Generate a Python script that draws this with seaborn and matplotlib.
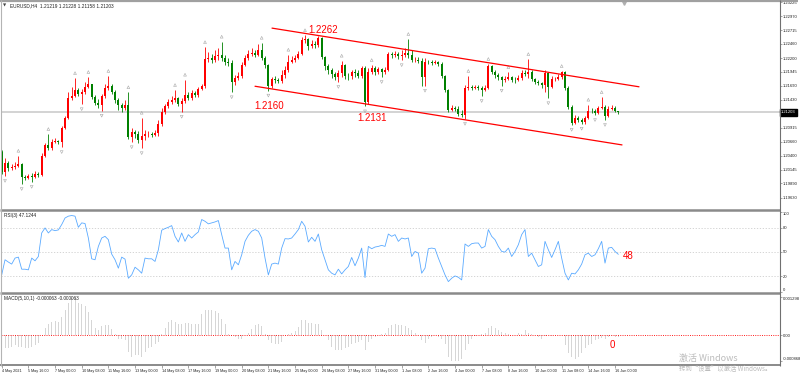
import matplotlib
matplotlib.use("Agg")
import matplotlib.pyplot as plt
import matplotlib.transforms as mtransforms
from matplotlib.lines import Line2D
import numpy as np
import pandas as pd
import seaborn as sns

# ---- data (EURUSD H4, 4 May 2021 08:00 -> 16 Jun 2021 04:00) ----
x_labels = ["4 May 2021", "5 May 16:00", "7 May 00:00", "10 May 08:00", "11 May 16:00",
            "13 May 00:00", "14 May 08:00", "17 May 16:00", "19 May 00:00", "20 May 08:00",
            "21 May 16:00", "25 May 00:00", "26 May 08:00", "27 May 16:00", "31 May 00:00",
            "1 Jun 08:00", "2 Jun 16:00", "4 Jun 00:00", "7 Jun 08:00", "8 Jun 16:00",
            "10 Jun 00:00", "11 Jun 08:00", "14 Jun 16:00", "16 Jun 00:00"]

opens = [
    1.2047, 1.2010, 1.2027, 1.2018, 1.2019, 1.2021, 1.2025, 1.2001, 1.1999, 1.2003,
    1.2001, 1.2006, 1.2005, 1.2040, 1.2060, 1.2054, 1.2065, 1.2067, 1.2065, 1.2091,
    1.2110, 1.2146, 1.2150, 1.2161, 1.2154, 1.2157, 1.2167, 1.2172, 1.2148, 1.2137,
    1.2134, 1.2150, 1.2165, 1.2169, 1.2157, 1.2143, 1.2134, 1.2128, 1.2134, 1.2075,
    1.2084, 1.2080, 1.2069, 1.2076, 1.2080, 1.2081, 1.2078, 1.2082, 1.2099, 1.2121,
    1.2132, 1.2139, 1.2143, 1.2146, 1.2135, 1.2141, 1.2152, 1.2146, 1.2156, 1.2152,
    1.2163, 1.2169, 1.2218, 1.2220, 1.2216, 1.2224, 1.2226, 1.2220, 1.2213, 1.2211,
    1.2176, 1.2183, 1.2187, 1.2207, 1.2220, 1.2227, 1.2229, 1.2226, 1.2235, 1.2220,
    1.2207, 1.2169, 1.2181, 1.2180, 1.2178, 1.2189, 1.2198, 1.2213, 1.2216, 1.2220,
    1.2227, 1.2253, 1.2255, 1.2242, 1.2246, 1.2244, 1.2257, 1.2222, 1.2205, 1.2198,
    1.2191, 1.2185, 1.2192, 1.2207, 1.2187, 1.2186, 1.2194, 1.2192, 1.2187, 1.2202,
    1.2139, 1.2194, 1.2202, 1.2194, 1.2200, 1.2194, 1.2198, 1.2227, 1.2226, 1.2228,
    1.2224, 1.2226, 1.2229, 1.2226, 1.2216, 1.2217, 1.2215, 1.2185, 1.2213, 1.2212,
    1.2211, 1.2213, 1.2209, 1.2187, 1.2161, 1.2124, 1.2128, 1.2126, 1.2117, 1.2115,
    1.2165, 1.2167, 1.2165, 1.2167, 1.2165, 1.2161, 1.2165, 1.2205, 1.2194, 1.2189,
    1.2185, 1.2180, 1.2181, 1.2185, 1.2180, 1.2179, 1.2183, 1.2192, 1.2191, 1.2194,
    1.2181, 1.2176, 1.2174, 1.2170, 1.2192, 1.2167, 1.2181, 1.2182, 1.2185, 1.2194,
    1.2165, 1.2130, 1.2100, 1.2110, 1.2106, 1.2102, 1.2110, 1.2123, 1.2122, 1.2119,
    1.2128, 1.2130, 1.2113, 1.2126, 1.2128, 1.2122,
]
highs = [
    1.2051, 1.2036, 1.2030, 1.2025, 1.2029, 1.2040, 1.2027, 1.2005, 1.2006, 1.2008,
    1.2012, 1.2010, 1.2045, 1.2064, 1.2080, 1.2071, 1.2073, 1.2069, 1.2095, 1.2113,
    1.2157, 1.2167, 1.2183, 1.2165, 1.2163, 1.2176, 1.2185, 1.2172, 1.2152, 1.2145,
    1.2154, 1.2172, 1.2187, 1.2172, 1.2161, 1.2146, 1.2137, 1.2143, 1.2157, 1.2091,
    1.2088, 1.2086, 1.2110, 1.2088, 1.2086, 1.2084, 1.2088, 1.2106, 1.2128, 1.2135,
    1.2145, 1.2150, 1.2161, 1.2148, 1.2146, 1.2180, 1.2157, 1.2161, 1.2159, 1.2167,
    1.2172, 1.2240, 1.2231, 1.2227, 1.2235, 1.2238, 1.2250, 1.2226, 1.2220, 1.2216,
    1.2189, 1.2194, 1.2213, 1.2226, 1.2235, 1.2238, 1.2235, 1.2246, 1.2248, 1.2224,
    1.2209, 1.2185, 1.2187, 1.2183, 1.2198, 1.2205, 1.2226, 1.2224, 1.2226, 1.2233,
    1.2259, 1.2262, 1.2257, 1.2253, 1.2251, 1.2261, 1.2259, 1.2224, 1.2209, 1.2202,
    1.2194, 1.2198, 1.2215, 1.2209, 1.2192, 1.2198, 1.2200, 1.2198, 1.2205, 1.2205,
    1.2202, 1.2207, 1.2205, 1.2204, 1.2202, 1.2204, 1.2231, 1.2231, 1.2233, 1.2231,
    1.2235, 1.2238, 1.2255, 1.2235, 1.2222, 1.2222, 1.2220, 1.2220, 1.2216, 1.2216,
    1.2216, 1.2215, 1.2213, 1.2189, 1.2163, 1.2134, 1.2132, 1.2132, 1.2124, 1.2170,
    1.2187, 1.2170, 1.2170, 1.2170, 1.2169, 1.2170, 1.2209, 1.2207, 1.2198, 1.2192,
    1.2187, 1.2187, 1.2194, 1.2187, 1.2185, 1.2189, 1.2198, 1.2198, 1.2218, 1.2198,
    1.2183, 1.2180, 1.2176, 1.2198, 1.2194, 1.2187, 1.2185, 1.2191, 1.2196, 1.2196,
    1.2169, 1.2134, 1.2115, 1.2113, 1.2110, 1.2113, 1.2134, 1.2128, 1.2126, 1.2132,
    1.2148, 1.2134, 1.2132, 1.2134, 1.2132, 1.2123,
]
lows = [
    1.2006, 1.2003, 1.2012, 1.2014, 1.2016, 1.2019, 1.1988, 1.1995, 1.1997, 1.1992,
    1.1999, 1.2001, 1.2003, 1.2038, 1.2051, 1.2051, 1.2064, 1.2062, 1.2056, 1.2089,
    1.2108, 1.2143, 1.2148, 1.2150, 1.2135, 1.2154, 1.2165, 1.2145, 1.2134, 1.2128,
    1.2123, 1.2146, 1.2161, 1.2154, 1.2137, 1.2124, 1.2121, 1.2124, 1.2071, 1.2065,
    1.2073, 1.2064, 1.2054, 1.2069, 1.2075, 1.2075, 1.2076, 1.2076, 1.2095, 1.2117,
    1.2128, 1.2135, 1.2139, 1.2132, 1.2121, 1.2137, 1.2143, 1.2143, 1.2148, 1.2148,
    1.2161, 1.2165, 1.2213, 1.2211, 1.2213, 1.2216, 1.2215, 1.2207, 1.2205, 1.2157,
    1.2170, 1.2180, 1.2183, 1.2205, 1.2216, 1.2224, 1.2222, 1.2224, 1.2216, 1.2202,
    1.2160, 1.2165, 1.2174, 1.2174, 1.2174, 1.2183, 1.2194, 1.2211, 1.2213, 1.2218,
    1.2226, 1.2248, 1.2235, 1.2238, 1.2238, 1.2240, 1.2218, 1.2198, 1.2191, 1.2183,
    1.2180, 1.2176, 1.2185, 1.2181, 1.2180, 1.2181, 1.2185, 1.2183, 1.2183, 1.2131,
    1.2135, 1.2191, 1.2189, 1.2191, 1.2185, 1.2191, 1.2196, 1.2220, 1.2222, 1.2218,
    1.2216, 1.2222, 1.2220, 1.2213, 1.2213, 1.2211, 1.2169, 1.2169, 1.2209, 1.2207,
    1.2209, 1.2205, 1.2183, 1.2157, 1.2121, 1.2123, 1.2123, 1.2113, 1.2111, 1.2108,
    1.2161, 1.2161, 1.2163, 1.2161, 1.2150, 1.2159, 1.2163, 1.2191, 1.2183, 1.2180,
    1.2169, 1.2176, 1.2180, 1.2176, 1.2174, 1.2178, 1.2180, 1.2187, 1.2183, 1.2178,
    1.2172, 1.2170, 1.2165, 1.2157, 1.2146, 1.2165, 1.2178, 1.2180, 1.2181, 1.2161,
    1.2126, 1.2097, 1.2099, 1.2102, 1.2099, 1.2099, 1.2108, 1.2119, 1.2115, 1.2117,
    1.2126, 1.2106, 1.2111, 1.2124, 1.2120, 1.2116,
]
closes = [
    1.2010, 1.2027, 1.2018, 1.2019, 1.2021, 1.2025, 1.2001, 1.1999, 1.2003, 1.2001,
    1.2006, 1.2005, 1.2040, 1.2060, 1.2054, 1.2065, 1.2067, 1.2065, 1.2091, 1.2110,
    1.2146, 1.2150, 1.2161, 1.2154, 1.2157, 1.2167, 1.2172, 1.2148, 1.2137, 1.2134,
    1.2150, 1.2165, 1.2169, 1.2157, 1.2143, 1.2134, 1.2128, 1.2134, 1.2075, 1.2084,
    1.2080, 1.2069, 1.2076, 1.2080, 1.2081, 1.2078, 1.2082, 1.2099, 1.2121, 1.2132,
    1.2139, 1.2143, 1.2146, 1.2135, 1.2141, 1.2152, 1.2146, 1.2156, 1.2152, 1.2163,
    1.2169, 1.2218, 1.2220, 1.2216, 1.2224, 1.2226, 1.2220, 1.2213, 1.2211, 1.2176,
    1.2183, 1.2187, 1.2207, 1.2220, 1.2227, 1.2229, 1.2226, 1.2235, 1.2220, 1.2207,
    1.2169, 1.2181, 1.2180, 1.2178, 1.2189, 1.2198, 1.2213, 1.2216, 1.2220, 1.2227,
    1.2253, 1.2255, 1.2242, 1.2246, 1.2244, 1.2257, 1.2222, 1.2205, 1.2198, 1.2191,
    1.2185, 1.2192, 1.2207, 1.2187, 1.2186, 1.2194, 1.2192, 1.2187, 1.2202, 1.2139,
    1.2194, 1.2202, 1.2194, 1.2200, 1.2194, 1.2198, 1.2227, 1.2226, 1.2228, 1.2224,
    1.2226, 1.2229, 1.2226, 1.2216, 1.2217, 1.2215, 1.2185, 1.2213, 1.2212, 1.2211,
    1.2213, 1.2209, 1.2187, 1.2161, 1.2124, 1.2128, 1.2126, 1.2117, 1.2115, 1.2165,
    1.2167, 1.2165, 1.2167, 1.2165, 1.2161, 1.2165, 1.2205, 1.2194, 1.2189, 1.2185,
    1.2180, 1.2181, 1.2185, 1.2180, 1.2179, 1.2183, 1.2192, 1.2191, 1.2194, 1.2181,
    1.2176, 1.2174, 1.2170, 1.2192, 1.2167, 1.2181, 1.2182, 1.2185, 1.2194, 1.2165,
    1.2130, 1.2100, 1.2110, 1.2106, 1.2102, 1.2110, 1.2123, 1.2122, 1.2119, 1.2128,
    1.2130, 1.2113, 1.2126, 1.2128, 1.2122, 1.2120,
]

rsi = [
    21.4, 40.3, 37.4, 34.9, 42.4, 43.6, 28.5, 28.5, 27.7, 42.4,
    39.0, 44.4, 73.8, 80.1, 73.8, 78.0, 76.7, 77.6, 84.3, 92.5,
    94.8, 95.6, 94.8, 80.9, 86.4, 85.6, 67.5, 41.5, 40.3, 57.0,
    67.5, 69.6, 65.4, 47.4, 40.3, 29.8, 43.6, 41.1, 17.2, 21.4,
    31.0, 27.7, 23.5, 42.4, 41.5, 41.5, 38.2, 52.8, 77.2, 79.3,
    80.9, 83.0, 69.6, 62.5, 73.8, 63.3, 71.7, 67.5, 71.7, 75.1,
    90.6, 88.4, 85.2, 86.4, 87.6, 89.3, 71.7, 54.9, 54.9, 27.7,
    38.2, 34.0, 46.5, 63.3, 70.9, 75.9, 78.0, 75.9, 67.5, 42.4,
    21.4, 34.9, 36.1, 34.9, 54.9, 66.7, 66.3, 67.5, 72.5, 78.0,
    88.4, 82.2, 62.5, 68.4, 63.3, 72.5, 52.8, 40.3, 27.7, 23.5,
    21.4, 28.5, 22.6, 27.7, 31.9, 43.2, 32.8, 42.4, 54.9, 18.0,
    57.0, 54.1, 56.2, 57.0, 58.3, 57.0, 72.5, 69.6, 71.7, 63.3,
    67.5, 66.3, 67.5, 44.4, 50.7, 48.6, 23.5, 29.8, 54.1, 54.9,
    54.1, 42.4, 31.9, 21.4, 13.0, 17.2, 20.1, 18.4, 15.1, 60.0,
    57.0, 60.4, 61.2, 61.2, 54.9, 57.0, 78.0, 69.6, 65.4, 57.0,
    50.7, 49.9, 54.9, 44.4, 50.7, 59.1, 71.7, 78.0, 44.4, 48.6,
    40.3, 31.9, 34.0, 63.3, 52.8, 43.2, 52.8, 63.3, 42.4, 23.5,
    15.1, 23.5, 22.6, 27.7, 34.9, 46.5, 48.6, 44.4, 46.5, 54.1,
    63.3, 36.1, 54.9, 55.8, 50.7, 47.1,
]

macd = [
    -0.00044, -0.00044, -0.00044, -0.00039, -0.00033, -0.00039, -0.00039, -0.00044, -0.00044, -0.00039,
    -0.00033, -0.00026, 0.00001, 0.00026, 0.00037, 0.00044, 0.00048, 0.00044, 0.00061, 0.00085,
    0.00108, 0.00125, 0.00130, 0.00108, 0.00105, 0.00100, 0.00078, 0.00050, 0.00026, 0.00019,
    0.00030, 0.00036, 0.00036, 0.00022, 0.00006, -0.00011, -0.00011, -0.00017, -0.00056, -0.00072,
    -0.00067, -0.00067, -0.00072, -0.00056, -0.00044, -0.00039, -0.00028, -0.00022, 0.00006, 0.00026,
    0.00044, 0.00050, 0.00044, 0.00039, 0.00037, 0.00041, 0.00041, 0.00039, 0.00039, 0.00039,
    0.00070, 0.00085, 0.00085, 0.00085, 0.00081, 0.00074, 0.00056, 0.00039, 0.00006, -0.00001,
    -0.00006, -0.00011, -0.00014, 0.00001, 0.00008, 0.00022, 0.00036, 0.00037, 0.00030, 0.00006,
    -0.00017, -0.00026, -0.00030, -0.00030, -0.00022, 0.00001, 0.00006, 0.00008, 0.00014, 0.00028,
    0.00050, 0.00052, 0.00042, 0.00041, 0.00039, 0.00037, 0.00017, 0.00001, -0.00017, -0.00039,
    -0.00048, -0.00048, -0.00048, -0.00044, -0.00039, -0.00030, -0.00026, -0.00022, -0.00017, -0.00048,
    -0.00022, -0.00011, -0.00006, 0.00002, 0.00003, 0.00008, 0.00026, 0.00033, 0.00037, 0.00033,
    0.00033, 0.00030, 0.00026, 0.00017, 0.00008, 0.00002, -0.00017, -0.00026, -0.00014, -0.00006,
    0.00001, -0.00006, -0.00011, -0.00028, -0.00072, -0.00085, -0.00087, -0.00085, -0.00078, -0.00050,
    -0.00030, -0.00011, -0.00002, 0.00001, 0.00006, 0.00008, 0.00026, 0.00030, 0.00026, 0.00019,
    0.00011, 0.00008, 0.00006, 0.00002, 0.00002, 0.00008, 0.00006, 0.00017, 0.00008, 0.00006,
    0.00002, -0.00006, -0.00011, -0.00002, 0.00001, -0.00003, 0.00001, 0.00002, 0.00001, -0.00033,
    -0.00061, -0.00072, -0.00078, -0.00072, -0.00061, -0.00041, -0.00033, -0.00028, -0.00017, -0.00011,
    -0.00008, -0.00011, -0.00006, -0.00003, -0.00006, -0.00006,
]

# Bill Williams fractals (bar indices)
fractal_up = [5, 14, 22, 26, 32, 38, 42, 52, 55, 61, 66, 78, 86, 91, 102, 111, 122,
              140, 146, 152, 158, 168, 176, 180]
fractal_down = [1, 6, 9, 18, 24, 30, 39, 42, 54, 69, 80, 101, 109, 114, 120, 127, 139,
                144, 150, 164, 171, 174, 178, 181]

# hand-drawn channel (bar index, price)
channel_upper_x = [81.1, 191.2]
channel_upper_y = [1.2275, 1.2167]
channel_lower_x = [76.0, 186.1]
channel_lower_y = [1.2168, 1.2060]

# price labels drawn on the chart
price_notes = [("1.2262", 91.9, 1.2272), ("1.2160", 75.7, 1.2132), ("1.2131", 106.8, 1.2110)]

price_ticks = [1.19630, 1.19890, 1.20145, 1.20400, 1.20660, 1.20915, 1.21430,
               1.21690, 1.21945, 1.22200, 1.22460, 1.22715, 1.22970, 1.23225]
rsi_levels = [20, 50, 80]
macd_ticks = [-0.000868, 0.0, 0.001298]
macd_tick_labels = ["-0.000868", "0.00", "0.001298"]

# ---- figure ----
sns.set_theme(style="white")
plt.rcParams['font.family'] = ['Liberation Sans', 'DejaVu Sans']

W, H = 800, 375
fig = plt.figure(figsize=(8, 3.75), dpi=100)
fig.patch.set_facecolor("white")


def px_axes(left, top, right, bottom):
    a = fig.add_axes([left / W, 1 - bottom / H, (right - left) / W, (bottom - top) / H])
    a.set_facecolor("white")
    for s in a.spines.values():
        s.set_visible(False)
    a.set_xlim(-0.21, 233.5)
    a.tick_params(axis="y", which="both", left=False, right=True, labelleft=False,
                  labelright=True, length=1.5, width=0.4, color="#606060",
                  labelsize=3.0, pad=0.6, labelcolor="#202020")
    return a


ax = px_axes(1, 2, 780, 209)
ax_rsi = px_axes(1, 212, 780, 292)
ax_macd = px_axes(1, 294.5, 780, 364.5)

bars = pd.DataFrame({"open": opens, "high": highs, "low": lows, "close": closes})
bars["idx"] = np.arange(len(bars))
bull = bars["close"] >= bars["open"]
colors = np.where(bull, "#ff0000", "#008000")

# main price panel
ax.axhline(closes[-1], color="#c8c8c8", lw=1.1, zorder=0)
ax.vlines(bars["idx"], bars["low"], bars["high"], colors=colors, lw=0.6, zorder=2)
body_low = bars[["open", "close"]].min(axis=1)
body_h = (bars["close"] - bars["open"]).abs().clip(lower=0.00005)
ax.bar(bars["idx"], body_h, bottom=body_low, width=0.62, color=colors, linewidth=0, zorder=3)

up_tr = mtransforms.offset_copy(ax.transData, fig=fig, x=0, y=3.6, units="points")
dn_tr = mtransforms.offset_copy(ax.transData, fig=fig, x=0, y=-3.6, units="points")
ax.scatter(fractal_up, [highs[i] for i in fractal_up], marker="^", s=4, facecolors="none",
           edgecolors="#a8a8a8", linewidths=0.4, transform=up_tr, zorder=4)
ax.scatter(fractal_down, [lows[i] for i in fractal_down], marker="v", s=4, facecolors="none",
           edgecolors="#a8a8a8", linewidths=0.4, transform=dn_tr, zorder=4)

ax.plot(channel_upper_x, channel_upper_y, color="#ff0000", lw=0.9, zorder=5)
ax.plot(channel_lower_x, channel_lower_y, color="#ff0000", lw=0.9, zorder=5)
for txt, xi, yi in price_notes:
    ax.text(xi, yi, txt, color="#ff0000", fontsize=7, ha="left", va="center", zorder=6)

ax.set_ylim(1.19420, 1.23231)
ax.set_yticks(price_ticks)
ax.set_yticklabels([f"{v:.5f}" for v in price_ticks])
ax.set_xticks([])
ax.text(0.012, 0.992, "EURUSD,H4  1.21219 1.21228 1.21158 1.21203", transform=ax.transAxes,
        fontsize=3.4, va="top", ha="left", color="#202020")
ax.text(0.003, 0.992, "\u25bc", transform=ax.transAxes, fontsize=3.0, va="top", ha="left",
        color="#404040", family=["DejaVu Sans"])
ax.text(1.0015, closes[-1], "1.21203",
        transform=mtransforms.blended_transform_factory(ax.transAxes, ax.transData),
        fontsize=3.0, color="white", va="center", ha="left", clip_on=False,
        bbox=dict(boxstyle="square,pad=0.35", facecolor="black", edgecolor="black"))
ax.plot([186.7], [1.2321], marker="v", ms=2.6, color="#b0b0b0", clip_on=False, zorder=6)

# RSI panel
for lv in rsi_levels:
    ax_rsi.axhline(lv, color="#cdcdcd", lw=0.6, ls=(0, (1.5, 2)), zorder=0)
sns.lineplot(x=bars["idx"], y=rsi, ax=ax_rsi, color="#3d9bff", lw=0.6, alpha=0.85)
ax_rsi.set_ylim(0, 100)
ax_rsi.set_yticks([0, 20, 50, 80, 100])
ax_rsi.set_yticklabels(["0", "20", "50", "80", "100"])
ax_rsi.get_yticklabels()[0].set_va("bottom")
ax_rsi.get_yticklabels()[-1].set_va("top")
ax_rsi.set_xticks([])
ax_rsi.set_xlabel("")
ax_rsi.set_ylabel("")
ax_rsi.text(0.004, 0.985, "RSI(3) 47.1244", transform=ax_rsi.transAxes, fontsize=3.4,
            va="top", ha="left", color="#202020")
ax_rsi.text(186.4, 44.4, "48", color="#ff0000", fontsize=7, ha="left", va="center")

# MACD panel
ax_macd.axhline(0, color="#ff0000", lw=0.6, ls=(0, (1.2, 1.5)), zorder=3)
ax_macd.bar(bars["idx"], macd, width=0.3, color="#d6d6d6", linewidth=0, zorder=2)
ax_macd.set_ylim(-0.00098, 0.00137)
ax_macd.set_yticks(macd_ticks)
ax_macd.set_yticklabels(macd_tick_labels)
ax_macd.get_yticklabels()[0].set_va("bottom")
ax_macd.get_yticklabels()[-1].set_va("top")
ax_macd.text(0.004, 0.985, "MACD(5,10,1) -0.000063 -0.000063", transform=ax_macd.transAxes,
             fontsize=3.4, va="top", ha="left", color="#202020")
ax_macd.text(182.3, -0.00034, "0", color="#ff0000", fontsize=7, ha="left", va="center")
ax_macd.set_xticks(np.arange(0, 8 * len(x_labels), 8))
ax_macd.set_xticklabels(x_labels, ha="left")
ax_macd.tick_params(axis="x", bottom=True, length=2, width=0.4, color="#606060",
                    labelsize=2.7, pad=1.2, labelcolor="#202020")

# window frame lines (pixel positions)
def frame_line(x0, y0, x1, y1, color, lw):
    fig.add_artist(Line2D([x0 / W, x1 / W], [1 - y0 / H, 1 - y1 / H], transform=fig.transFigure,
                          color=color, lw=lw, solid_capstyle="butt"))


frame_line(0, 1, 798, 1, "#a0a0a0", 1.6)
frame_line(0, 210.3, 780, 210.3, "#8a8a8a", 1.8)
frame_line(0, 293.2, 780, 293.2, "#8a8a8a", 1.8)
frame_line(0, 365, 780, 365, "#8a8a8a", 1.4)
frame_line(780, 0, 780, 366, "#707070", 0.8)
frame_line(0.5, 0, 0.5, 366, "#b4b4b4", 0.8)

# Windows activation watermark
cjk = ["Noto Sans CJK SC", "DejaVu Sans"]
fig.text(679 / W, 1 - 358 / H, "激活 Windows", fontsize=6.5, color="#bcbcbc", family=cjk,
         va="center", ha="left")
fig.text(679 / W, 1 - 369.5 / H, "转到“设置”以激活 Windows。", fontsize=4.6, color="#bcbcbc",
         family=cjk, va="center", ha="left")

fig.savefig("out.png", dpi=100)
